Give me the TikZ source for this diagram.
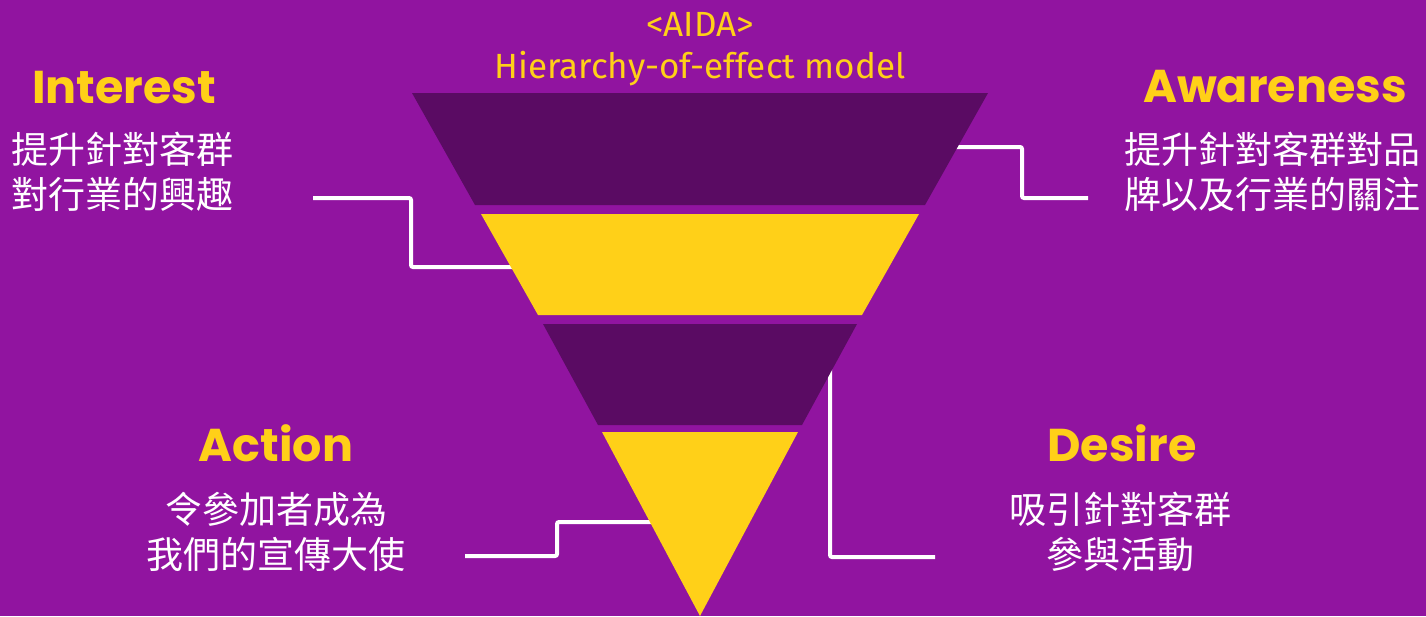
\documentclass[tikz,border=0pt]{standalone}
\usepackage{fontspec}
\setmainfont{Fira Sans}
\newfontfamily\titlefont{Poppins}
\newfontfamily\cjkfont{Noto Sans CJK TC}
\definecolor{bgpurple}{HTML}{9114A0}
\definecolor{funneldark}{HTML}{5A0B63}
\definecolor{funnelyellow}{HTML}{FFD018}

\begin{document}
\begin{tikzpicture}[x=1pt,y=-1pt,
		title/.style={font=\titlefont\fontsize{46}{54}\selectfont\bfseries, text=funnelyellow, anchor=base, inner sep=0pt},
		desc/.style={font=\cjkfont\fontsize{37}{45}\selectfont, text=white, align=center, inner sep=0pt},
		link/.style={draw=white, line width=4pt, rounded corners=2pt}]
		\fill[bgpurple] (0,0) rectangle (1426,616);
		\coordinate (interest-end) at (313,198);
		\coordinate (interest-step) at (411,232);
		\coordinate (interest-tip) at (518,267);
		\coordinate (awareness-end) at (1088,198);
		\coordinate (awareness-step) at (1022,172);
		\coordinate (awareness-tip) at (950,147);
		\coordinate (action-end) at (465,556);
		\coordinate (action-step) at (557,539);
		\coordinate (action-tip) at (656,522);
		\coordinate (desire-end) at (935,557);
		\coordinate (desire-tip) at (830,366);
		\draw[link] (interest-end) -| (interest-step) |- (interest-tip);
		\draw[link] (awareness-tip) -| (awareness-step) |- (awareness-end);
		\draw[link] (action-end) -| (action-step) |- (action-tip);
		\draw[link] (desire-tip) |- (desire-end);
		\foreach \ytop/\ybot/\wtop/\wbot/\col in {%
			93/205/288/225/funneldark,
			214/315/219/162/funnelyellow,
			324/425/157/102/funneldark,
			432/616/98/0/funnelyellow}%
		{
			\fill[\col] ({700-\wtop},\ytop) -- ({700+\wtop},\ytop) -- ({700+\wbot},\ybot) -- ({700-\wbot},\ybot) -- cycle;
		};
		\node[font=\fontsize{35}{40}\selectfont, text=funnelyellow, anchor=base, inner sep=0pt] (aida) at (700,36) {<AIDA>};
		\node[font=\fontsize{35}{40}\selectfont, text=funnelyellow, anchor=base, inner sep=0pt] (model) at (700,78) {Hierarchy-of-effect model};
		\foreach \name/\tx/\ty/\dx/\dy/\title/\desc in {%
			interest/124/103/122/172/Interest/{提升針對客群\\對行業的興趣},
			awareness/1275/102/1272/172/Awareness/{提升針對客群對品\\牌以及行業的關注},
			action/276/461/276/532/Action/{令參加者成為\\我們的宣傳大使},
			desire/1122/461/1120/532/Desire/{吸引針對客群\\參與活動}}%
		{
			\node[title] (\name-title) at (\tx,\ty) {\title};
			\node[desc] (\name-text) at (\dx,\dy) {\desc};
		};
	\end{tikzpicture}
\end{document}
